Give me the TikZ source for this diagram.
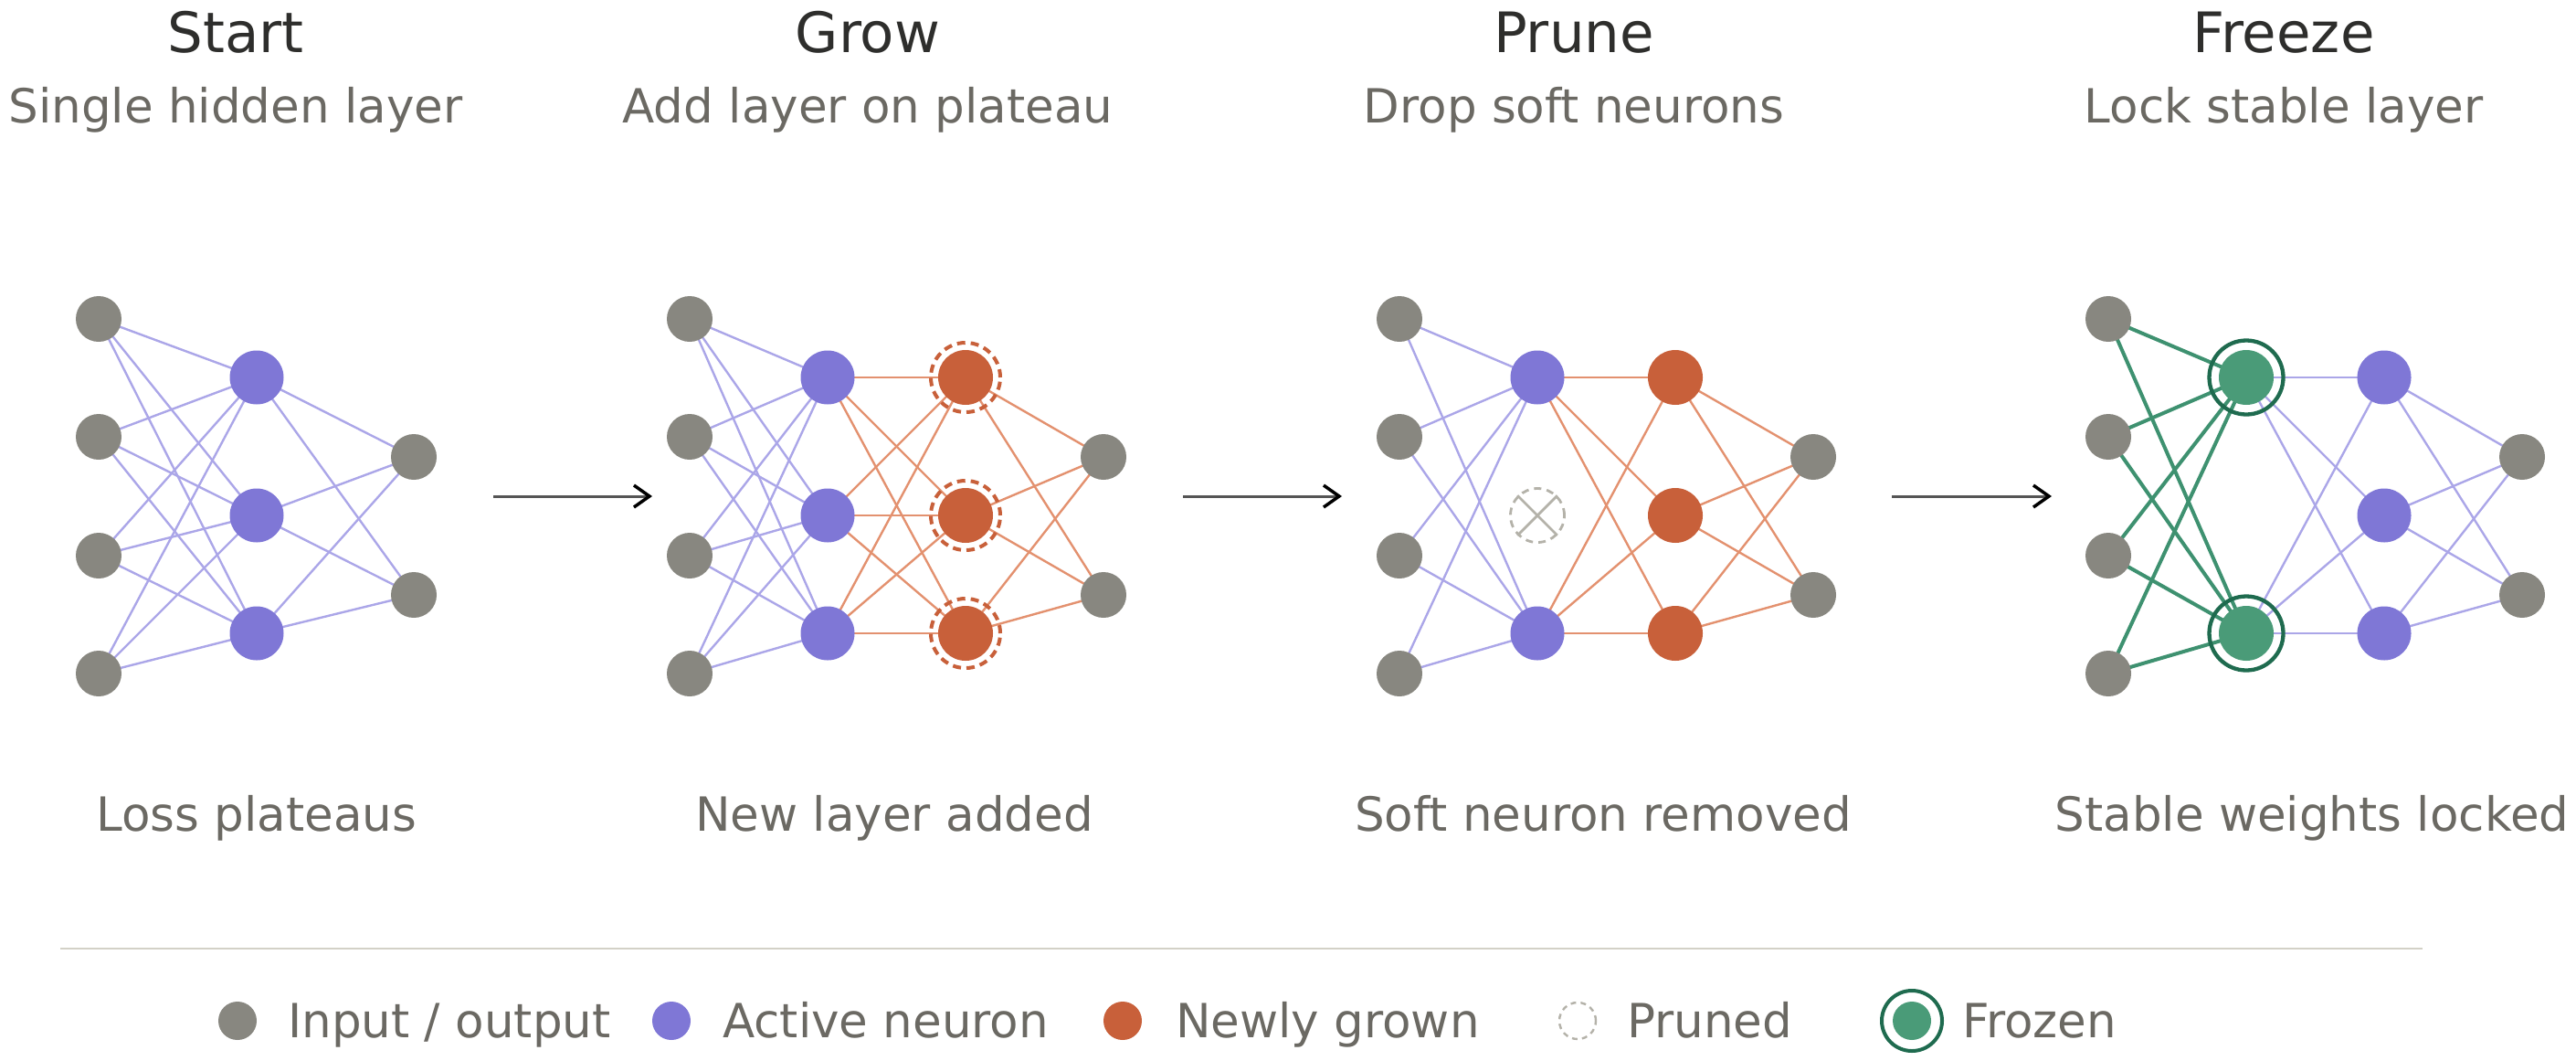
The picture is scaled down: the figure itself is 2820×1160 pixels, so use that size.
\documentclass[tikz,border=0pt]{standalone}
\usepackage{fontspec}
\setmainfont{DejaVu Sans}
\usetikzlibrary{arrows.meta}
\definecolor{iogray}{HTML}{888780}
\definecolor{actpurple}{HTML}{7F77D6}
\definecolor{edgepurple}{HTML}{ABA6E8}
\definecolor{grownorange}{HTML}{C8603A}
\definecolor{edgeorange}{HTML}{E3916F}
\definecolor{frozengreen}{HTML}{4A9B78}
\definecolor{edgegreen}{HTML}{3E9170}
\definecolor{ringgreen}{HTML}{1F6B4F}
\definecolor{prunedgray}{HTML}{B4B2A9}
\definecolor{titlecol}{HTML}{2E2E2C}
\definecolor{textcol}{HTML}{6B6963}
\definecolor{arrowgray}{HTML}{555555}
\definecolor{rulecol}{HTML}{D3D1C7}
\pgfdeclarelayer{bg}
\pgfsetlayers{bg,main}
\tikzset{
  io/.style={circle,fill=iogray,minimum size=50pt,inner sep=0pt},
  act/.style={circle,fill=actpurple,minimum size=59pt,inner sep=0pt},
  grown/.style={circle,fill=grownorange,minimum size=60pt,inner sep=0pt},
  frozen/.style={circle,fill=frozengreen,minimum size=60pt,inner sep=0pt},
  growring/.style={circle,draw=grownorange,line width=4pt,dash pattern=on 9pt off 6pt,minimum size=76pt,inner sep=0pt},
  frozring/.style={circle,draw=ringgreen,line width=4.3pt,minimum size=81pt,inner sep=0pt},
  ghost/.style={circle,draw=prunedgray,line width=2.8pt,dash pattern=on 8pt off 6pt,minimum size=59pt,inner sep=0pt},
  eP/.style={draw=edgepurple,line width=2.4pt},
  eO/.style={draw=edgeorange,line width=2.4pt},
  eG/.style={draw=edgegreen,line width=4pt},
  ttl/.style={anchor=base,text=titlecol,font=\fontsize{61pt}{72pt}\selectfont,inner sep=0pt},
  sub/.style={anchor=base,text=textcol,font=\fontsize{51.5pt}{62pt}\selectfont,inner sep=0pt},
  leg/.style={anchor=base west,text=textcol,font=\fontsize{51.5pt}{62pt}\selectfont,inner sep=0pt},
  flow/.style={draw=arrowgray,line width=3pt,-{Straight Barb[length=17pt,width=24pt,line width=3.5pt,color=black]}},
  legdot/.style={circle,minimum size=42pt,inner sep=0pt}
}
\begin{document}
\begin{tikzpicture}[x=1pt,y=-1pt]
\useasboundingbox (0,0) rectangle (2820,1160);

% ---------- titles ----------
\node[ttl] (t1) at (258,57) {Start};
\node[sub] (s1) at (258,134) {Single hidden layer};
\node[ttl] (t2) at (950,57) {Grow};
\node[sub] (s2) at (950,134) {Add layer on plateau};
\node[ttl] (t3) at (1723,57) {Prune};
\node[sub] (s3) at (1723,134) {Drop soft neurons};
\node[ttl] (t4) at (2500,57) {Freeze};
\node[sub] (s4) at (2500,134) {Lock stable layer};

% ---------- bottom labels ----------
\node[sub] (b1) at (281,909) {Loss plateaus};
\node[sub] (b2) at (979,909) {New layer added};
\node[sub] (b3) at (1755,909) {Soft neuron removed};
\node[sub] (b4) at (2531,909) {Stable weights locked};

% ---------- neurons ----------
\foreach \k/\y in {1/349,2/478,3/608,4/737}{
  \node[io] (p1i\k) at (108,\y) {};
  \node[io] (p2i\k) at (755,\y) {};
  \node[io] (p3i\k) at (1532,\y) {};
  \node[io] (p4i\k) at (2308,\y) {};
}
\foreach \k/\y in {1/500,2/651}{
  \node[io] (p1o\k) at (453,\y) {};
  \node[io] (p2o\k) at (1208,\y) {};
  \node[io] (p3o\k) at (1985,\y) {};
  \node[io] (p4o\k) at (2761,\y) {};
}
\foreach \k/\y in {1/413,2/564,3/693}{
  \node[act] (p1h\k) at (281,\y) {};
  \node[act] (p2h\k) at (906,\y) {};
  \node[grown] (p2n\k) at (1057,\y) {};
  \node[growring] (p2r\k) at (1057,\y) {};
  \node[grown] (p3n\k) at (1834,\y) {};
  \node[act] (p4h\k) at (2610,\y) {};
}
\node[act] (p3h1) at (1683,413) {};
\node[ghost] (p3h2) at (1683,564) {};
\node[act] (p3h3) at (1683,693) {};
\draw[draw=prunedgray,line width=2.8pt] (p3h2.north west) -- (p3h2.south east);
\draw[draw=prunedgray,line width=2.8pt] (p3h2.north east) -- (p3h2.south west);
\node[frozen] (p4f1) at (2459,413) {};
\node[frozring] (p4r1) at (2459,413) {};
\node[frozen] (p4f3) at (2459,693) {};
\node[frozring] (p4r3) at (2459,693) {};

% ---------- edges ----------
\begin{pgfonlayer}{bg}
\foreach \a in {1,...,4}{
  \foreach \b in {1,2,3}{
    \draw[eP] (p1i\a.center) -- (p1h\b.center);
    \draw[eP] (p2i\a.center) -- (p2h\b.center);
  }
  \foreach \b in {1,3}{
    \draw[eP] (p3i\a.center) -- (p3h\b.center);
    \draw[eG] (p4i\a.center) -- (p4f\b.center);
  }
}
\foreach \a in {1,2,3}{
  \foreach \b in {1,2}{
    \draw[eP] (p1h\a.center) -- (p1o\b.center);
    \draw[eO] (p2n\a.center) -- (p2o\b.center);
    \draw[eO] (p3n\a.center) -- (p3o\b.center);
    \draw[eP] (p4h\a.center) -- (p4o\b.center);
  }
  \foreach \b in {1,2,3}{
    \draw[eO] (p2h\a.center) -- (p2n\b.center);
  }
  \foreach \b in {1,3}{
    \draw[eO] (p3h\b.center) -- (p3n\a.center);
    \draw[eP] (p4f\b.center) -- (p4h\a.center);
  }
}
\end{pgfonlayer}

% ---------- flow arrows ----------
\coordinate (a1s) at (540,543); \coordinate (a1e) at (714,543);
\coordinate (a2s) at (1295,543); \coordinate (a2e) at (1469,543);
\coordinate (a3s) at (2071,543); \coordinate (a3e) at (2246,543);
\draw[flow] (a1s) -- (a1e);
\draw[flow] (a2s) -- (a2e);
\draw[flow] (a3s) -- (a3e);

% ---------- legend ----------
\coordinate (r1) at (66,1038); \coordinate (r2) at (2652,1038);
\draw[draw=rulecol,line width=2pt] (r1) -- (r2);
\node[legdot,fill=iogray] (l1) at (260,1117) {};
\node[leg] (lt1) at (315,1135) {Input / output};
\node[legdot,fill=actpurple] (l2) at (735,1117) {};
\node[leg] (lt2) at (791,1135) {Active neuron};
\node[legdot,fill=grownorange] (l3) at (1229,1117) {};
\node[leg] (lt3) at (1287,1135) {Newly grown};
\node[legdot,draw=prunedgray,line width=2.4pt,dash pattern=on 6pt off 5pt,minimum size=40pt] (l4) at (1727,1117) {};
\node[leg] (lt4) at (1781,1135) {Pruned};
\node[legdot,fill=frozengreen] (l5) at (2093,1117) {};
\node[circle,draw=ringgreen,line width=4pt,minimum size=66pt,inner sep=0pt] (l5r) at (2093,1117) {};
\node[leg] (lt5) at (2148,1135) {Frozen};
\end{tikzpicture}
\end{document}
